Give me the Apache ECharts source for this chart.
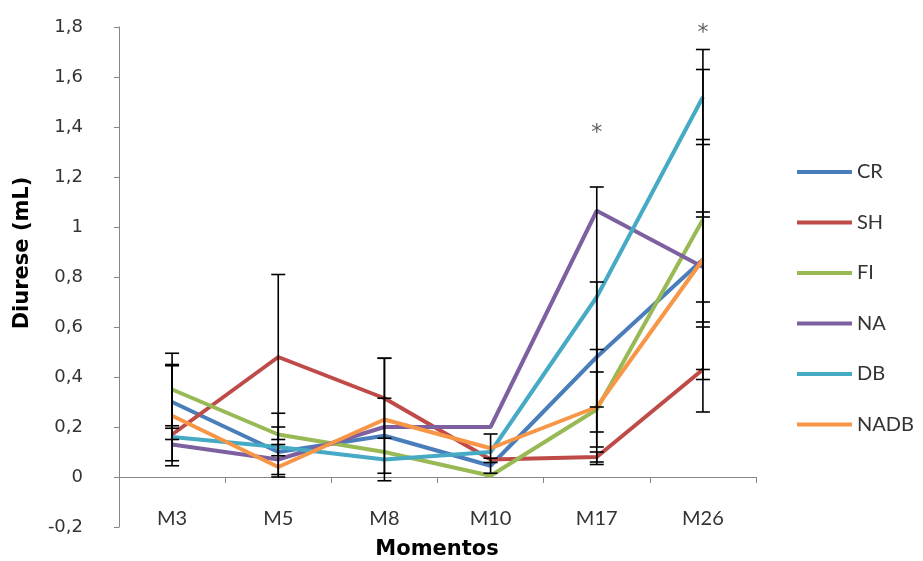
<!DOCTYPE html>
<html>
<head>
<meta charset="utf-8">
<script src="https://cdn.jsdelivr.net/npm/echarts@6/dist/echarts.min.js"></script>
<style>
  html, body { margin: 0; padding: 0; background: #ffffff; }
  #chart { width: 923px; height: 561px; }
</style>
</head>
<body>
<div id="chart"></div>
<script>
// Diurese (mL) per momento, mean values per group
const categories = ['M3', 'M5', 'M8', 'M10', 'M17', 'M26'];
const yTicks = { min: -0.2, max: 1.8, step: 0.2 };

const CR   = [0.30, 0.10, 0.165, 0.045, 0.48, 0.87];
const SH   = [0.17, 0.48, 0.315, 0.07, 0.08, 0.43];
const FI   = [0.35, 0.17, 0.10, 0.005, 0.27, 1.03];
const NA   = [0.13, 0.07, 0.20, 0.20, 1.065, 0.84];
const DB   = [0.16, 0.12, 0.07, 0.10, 0.72, 1.52];
const NADB = [0.245, 0.04, 0.23, 0.115, 0.28, 0.87];

// standard deviations (null = no bar drawn)
const CR_err   = [0.15, 0.10, 0.15, 0.03, 0.30, 0.48];
const SH_err   = [null, 0.33, 0.16, null, 0.02, 0.17];
const FI_err   = [0.145, 0.085, null, null, 0.15, 0.60];
const NA_err   = [0.065, 0.06, null, null, null, 0.22];
const DB_err   = [null, null, null, null, 0.44, 0.19];
const NADB_err = [0.20, null, 0.245, 0.057, 0.23, 0.17];

// significance markers: [category index, height]
const asterisks = [[4, 1.4], [5, 1.8]];

const groups = [
  { name: 'CR',   values: CR,   errors: CR_err,   color: '#4A7EBB' },
  { name: 'SH',   values: SH,   errors: SH_err,   color: '#BE4B48' },
  { name: 'FI',   values: FI,   errors: FI_err,   color: '#98B954' },
  { name: 'NA',   values: NA,   errors: NA_err,   color: '#7D60A0' },
  { name: 'DB',   values: DB,   errors: DB_err,   color: '#46AAC5' },
  { name: 'NADB', values: NADB, errors: NADB_err, color: '#F79646' }
];

const labelFont = 'Lato, "Open Sans", sans-serif';
const numFont = '"DejaVu Sans", Verdana, sans-serif';

function errorBarRender(params, api) {
  const idx = api.value(0);
  const mean = api.value(1);
  const err = api.value(2);
  const top = api.coord([idx, mean + err]);
  const bot = api.coord([idx, mean - err]);
  const hw = 7;
  const style = { stroke: '#000000', lineWidth: 1.6 };
  return {
    type: 'group',
    children: [
      { type: 'line', shape: { x1: top[0], y1: top[1], x2: bot[0], y2: bot[1] }, style },
      { type: 'line', shape: { x1: top[0] - hw, y1: top[1], x2: top[0] + hw, y2: top[1] }, style },
      { type: 'line', shape: { x1: bot[0] - hw, y1: bot[1], x2: bot[0] + hw, y2: bot[1] }, style }
    ]
  };
}

const series = [];
groups.forEach(g => {
  series.push({
    name: g.name,
    type: 'line',
    data: g.values,
    showSymbol: false,
    symbol: 'none',
    lineStyle: { width: 4, color: g.color },
    itemStyle: { color: g.color },
    z: 2
  });
});
groups.forEach(g => {
  const data = [];
  g.errors.forEach((e, i) => { if (e !== null) data.push([i, g.values[i], e]); });
  series.push({
    name: g.name + ' SD',
    type: 'custom',
    renderItem: errorBarRender,
    data: data,
    clip: false,
    silent: true,
    z: 5
  });
});
series.push({
  name: 'sig',
  type: 'scatter',
  data: asterisks,
  symbolSize: 1,
  itemStyle: { color: 'rgba(0,0,0,0)' },
  clip: false,
  silent: true,
  label: {
    show: true,
    position: 'inside',
    formatter: '*',
    fontSize: 22,
    fontFamily: numFont,
    color: '#333333',
    offset: [0, 6]
  },
  z: 6
});

const chart = echarts.init(document.getElementById('chart'), null, { renderer: 'canvas' });
chart.setOption({
  animation: false,
  backgroundColor: '#ffffff',
  grid: { left: 119, top: 27, width: 637, height: 500, containLabel: false },
  legend: {
    data: groups.map(g => g.name),
    orient: 'vertical',
    left: 792,
    top: 156,
    itemWidth: 55,
    itemHeight: 4,
    itemGap: 28.5,
    icon: 'rect',
    textStyle: { fontSize: 20, fontFamily: labelFont, color: '#333333', lineHeight: 22 }
  },
  xAxis: [
    {
      type: 'category',
      data: categories,
      boundaryGap: true,
      axisLine: { show: true, onZero: true, lineStyle: { color: '#868686', width: 1 } },
      axisTick: { show: true, length: 6, lineStyle: { color: '#868686' } },
      axisLabel: { show: false },
      splitLine: { show: false }
    },
    {
      type: 'category',
      data: categories,
      position: 'bottom',
      offset: -22,
      axisLine: { show: false, onZero: false },
      axisTick: { show: false },
      axisLabel: { show: true, margin: 4, fontSize: 20, fontFamily: labelFont, color: '#333333' },
      splitLine: { show: false }
    }
  ],
  yAxis: {
    type: 'value',
    min: yTicks.min,
    max: yTicks.max,
    interval: yTicks.step,
    axisLine: { show: true, onZero: false, lineStyle: { color: '#868686', width: 1 } },
    axisTick: { show: true, length: 5, lineStyle: { color: '#868686' } },
    axisLabel: {
      margin: 36,
      fontSize: 18,
      fontFamily: numFont,
      color: '#333333',
      formatter: v => String(Math.round(v * 10) / 10).replace('.', ',')
    },
    splitLine: { show: false }
  },
  graphic: [
    {
      type: 'text',
      x: 23, y: 253,
      rotation: Math.PI / 2,
      style: {
        text: 'Diurese (mL)',
        font: 'bold 21px "DejaVu Sans", Verdana, sans-serif',
        fill: '#000000',
        textAlign: 'center',
        textVerticalAlign: 'middle'
      }
    },
    {
      type: 'text',
      x: 437, y: 550,
      style: {
        text: 'Momentos',
        font: 'bold 21px "DejaVu Sans", Verdana, sans-serif',
        fill: '#000000',
        textAlign: 'center',
        textVerticalAlign: 'middle'
      }
    }
  ],
  series: series
});
</script>
</body>
</html>
